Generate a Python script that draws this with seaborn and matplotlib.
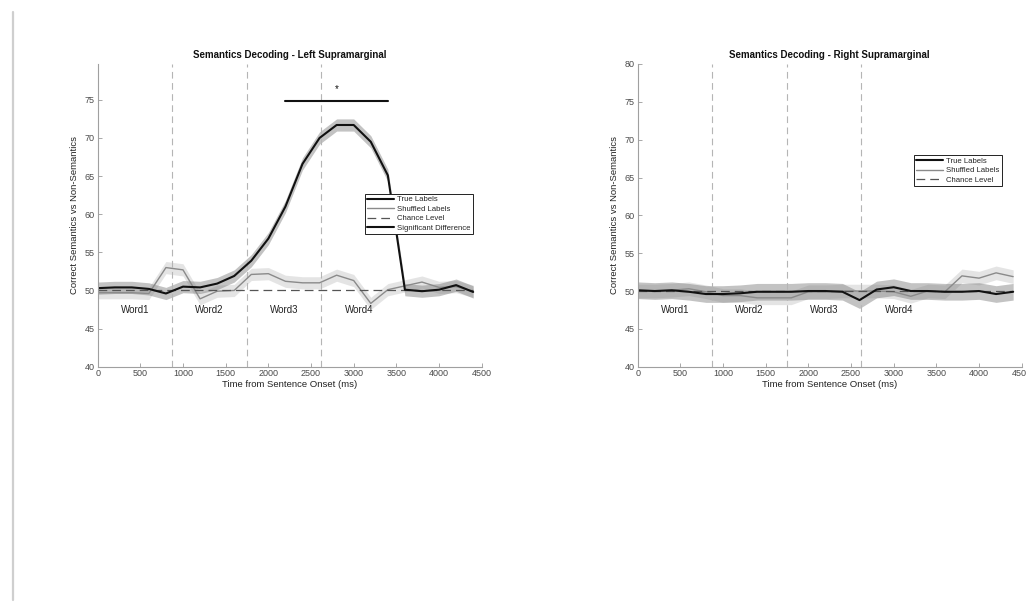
import numpy as np
import pandas as pd
import matplotlib
matplotlib.use("Agg")
import matplotlib.pyplot as plt
from matplotlib.lines import Line2D
import seaborn as sns

# time axis (ms) and decoding accuracy values
time_ms = [0, 200, 400, 600, 800, 1000, 1200, 1400, 1600, 1800, 2000, 2200,
           2400, 2600, 2800, 3000, 3200, 3400, 3600, 3800, 4000, 4200, 4400]

left_true = [50.3, 50.4, 50.4, 50.2, 49.6, 50.5, 50.4, 50.9, 51.9, 53.9, 56.8, 61.0,
             66.6, 70.0, 71.7, 71.7, 69.5, 65.1, 50.1, 49.9, 50.1, 50.7, 49.8]
left_shuf = [49.7, 49.7, 49.7, 49.6, 53.0, 52.7, 48.9, 49.9, 50.0, 52.1, 52.2, 51.2,
             51.0, 51.0, 52.0, 51.3, 48.3, 50.1, 50.6, 51.1, 50.4, 50.5, 49.9]
right_true = [50.1, 50.0, 50.1, 49.9, 49.6, 49.6, 49.7, 49.9, 49.9, 49.9, 50.0, 50.0,
              49.9, 48.8, 50.2, 50.5, 50.0, 50.0, 49.9, 49.9, 50.0, 49.6, 49.9]
right_shuf = [50.0, 50.0, 50.1, 50.3, 49.9, 49.4, 49.4, 49.1, 49.1, 49.1, 49.9, 49.9,
              50.0, 50.0, 50.0, 49.9, 49.3, 50.0, 49.9, 52.0, 51.7, 52.4, 51.9]

# error band half-widths
left_true_err, left_shuf_err = 0.8, 0.8
right_true_err, right_shuf_err = 1.1, 0.9

chance = 50
word_onsets = [870, 1745, 2620]
word_names = ["Word1", "Word2", "Word3", "Word4"]
word_centers = [437, 1310, 2185, 3060]
sig_window = [2200, 3400]
sig_level = 74.8

sns.set_style("ticks")
plt.rcParams["font.family"] = ["Liberation Sans", "DejaVu Sans"]
plt.rcParams["xtick.direction"] = "in"
plt.rcParams["ytick.direction"] = "in"

fig = plt.figure(figsize=(10.26, 6.06), dpi=100)
ax_l = fig.add_axes([0.0952, 0.3949, 0.3743, 0.4995])
ax_r = fig.add_axes([0.6215, 0.3949, 0.3743, 0.4995])

# faint frame line at left edge of the page
fig.add_artist(Line2D([12.7 / 1026] * 2, [1 - 12 / 606, 1 - 600 / 606],
                      color="#cfcfcf", lw=1.6))


def draw_panel(ax, true_vals, shuf_vals, true_err, shuf_err, title, ymax, sig):
    df = pd.DataFrame({"time": time_ms, "true": true_vals, "shuf": shuf_vals,
                       "chance": [chance] * len(time_ms)})
    t = np.array(true_vals)
    s = np.array(shuf_vals)
    ax.fill_between(time_ms, s - shuf_err, s + shuf_err, color="#a8a8a8",
                    alpha=0.3, lw=0)
    ax.fill_between(time_ms, t - true_err, t + true_err, color="#7a7a7a",
                    alpha=0.45, lw=0)
    for x in word_onsets:
        ax.axvline(x, color="#b5b5b5", ls=(0, (6, 4)), lw=0.8, zorder=1)
    sns.lineplot(data=df, x="time", y="shuf", ax=ax, color="#8a8a8a", lw=1.0,
                 label="Shuffled Labels", legend=False)
    sns.lineplot(data=df, x="time", y="chance", ax=ax, color="#555555", lw=0.9,
                 ls=(0, (7, 4)), label="Chance Level", legend=False)
    sns.lineplot(data=df, x="time", y="true", ax=ax, color="#111111", lw=1.5,
                 label="True Labels", legend=False)
    handles = [Line2D([], [], color="#111111", lw=1.5),
               Line2D([], [], color="#8a8a8a", lw=1.0),
               Line2D([], [], color="#555555", lw=0.9, ls=(0, (7, 4)))]
    labels = ["True Labels", "Shuffled Labels", "Chance Level"]
    if sig:
        sns.lineplot(x=sig_window, y=[sig_level, sig_level], ax=ax,
                     color="#111111", lw=1.5)
        ax.text(np.mean(sig_window), sig_level + 0.9, "*", ha="center",
                va="bottom", fontsize=7, color="#111111")
        handles.append(Line2D([], [], color="#111111", lw=1.5))
        labels.append("Significant Difference")
    for name, xc in zip(word_names, word_centers):
        ax.text(xc, 47.5, name, ha="center", va="center", fontsize=7,
                color="#222222")
    ax.set_xlim(0, 4500)
    ax.set_ylim(40, ymax)
    ax.set_xticks(np.arange(0, 4501, 500))
    ax.set_yticks(np.arange(40, ymax + 0.01, 5))
    ax.set_xlabel("Time from Sentence Onset (ms)", fontsize=6.8, labelpad=1,
                  color="#222222")
    ax.set_ylabel("Correct Semantics vs Non-Semantics", fontsize=6.8,
                  labelpad=4, color="#222222")
    ax.set_title(title, fontsize=7, fontweight="bold", pad=4, color="#111111")
    ax.tick_params(labelsize=6.5, length=3, width=0.6, colors="#9a9a9a",
                   labelcolor="#4a4a4a", pad=2)
    for side in ["top", "right"]:
        ax.spines[side].set_visible(False)
    for side in ["left", "bottom"]:
        ax.spines[side].set_color("#a0a0a0")
        ax.spines[side].set_linewidth(0.8)
    return handles, labels


h, lab = draw_panel(ax_l, left_true, left_shuf, left_true_err, left_shuf_err,
                    "Semantics Decoding - Left Supramarginal", 79.7, True)
leg = ax_l.legend(h, lab, loc="upper right", bbox_to_anchor=(0.978, 0.5715),
                  fontsize=5.6, frameon=True, fancybox=False, framealpha=1,
                  edgecolor="#222222", handlelength=3.4, handletextpad=0.5,
                  labelspacing=0.25, borderpad=0.3, borderaxespad=0)
leg.get_frame().set_linewidth(0.7)

h, lab = draw_panel(ax_r, right_true, right_shuf, right_true_err,
                    right_shuf_err, "Semantics Decoding - Right Supramarginal",
                    80, False)
leg = ax_r.legend(h, lab, loc="upper right", bbox_to_anchor=(0.949, 0.699),
                  fontsize=5.6, frameon=True, fancybox=False, framealpha=1,
                  edgecolor="#222222", handlelength=3.4, handletextpad=0.5,
                  labelspacing=0.25, borderpad=0.3, borderaxespad=0)
leg.get_frame().set_linewidth(0.7)

fig.savefig("out.png", dpi=100)
